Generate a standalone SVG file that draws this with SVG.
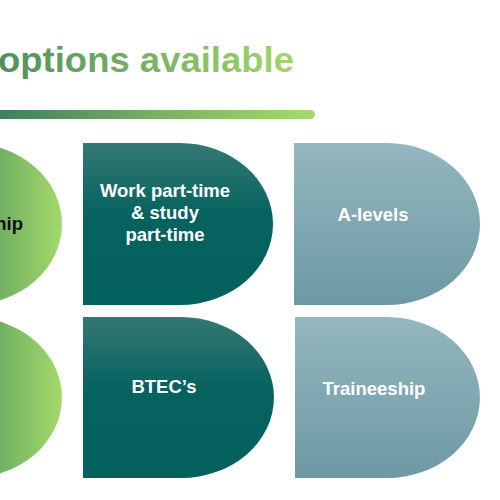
<svg xmlns="http://www.w3.org/2000/svg" width="500" height="500" viewBox="0 0 500 500">
<defs>
<linearGradient id="gTitle" x1="0" y1="0" x2="1" y2="0">
<stop offset="0" stop-color="#4f8f5c"/>
<stop offset="1" stop-color="#a2d66c"/>
</linearGradient>
<linearGradient id="gBar" x1="0" y1="0" x2="1" y2="0">
<stop offset="0" stop-color="#3d7a5c"/>
<stop offset="0.5" stop-color="#76b062"/>
<stop offset="1" stop-color="#a6da6c"/>
</linearGradient>
<linearGradient id="gTeal" x1="0" y1="0" x2="0" y2="1">
<stop offset="0" stop-color="#357873"/>
<stop offset="0.45" stop-color="#05625f"/>
<stop offset="1" stop-color="#02605d"/>
</linearGradient>
<linearGradient id="gGray" x1="0" y1="0" x2="0" y2="1">
<stop offset="0" stop-color="#94b6bf"/>
<stop offset="1" stop-color="#6d99a5"/>
</linearGradient>
<linearGradient id="gGreen" x1="0" y1="0" x2="1" y2="0">
<stop offset="0" stop-color="#4f9660"/>
<stop offset="0.65" stop-color="#6eae62"/>
<stop offset="1" stop-color="#a3d86a"/>
</linearGradient>
</defs>
<style>
.lbl{font-family:"Liberation Sans",Arial,sans-serif;font-weight:bold;font-size:18.5px;fill:#ffffff;text-anchor:middle}
.dark{fill:#111111;text-anchor:end}
</style>
<rect width="500" height="500" fill="#ffffff"/>
<text x="-2" y="72" font-family="'Liberation Sans',Arial,sans-serif" font-weight="bold" font-size="35" fill="url(#gTitle)" textLength="296" lengthAdjust="spacingAndGlyphs">options available</text>
<rect x="-10" y="110" width="325" height="9" rx="4.5" fill="url(#gBar)"/>
<g id="node-apprenticeship">
<path d="M-130,143 H-31 A93,81 0 0 1 -31,305 H-130 Z" fill="url(#gGreen)"/>
<text class="lbl dark" x="23" y="230">Apprenticeship</text>
</g>
<g id="node-work-study">
<path d="M83,143 H180 A93,81 0 0 1 180,305 H83 Z" fill="url(#gTeal)"/>
<text class="lbl" x="165" y="197">Work part-time</text>
<text class="lbl" x="165" y="219">&amp; study</text>
<text class="lbl" x="165" y="241">part-time</text>
</g>
<g id="node-alevels">
<path d="M294,143 H387 A93,81 0 0 1 387,305 H294 Z" fill="url(#gGray)"/>
<text class="lbl" x="373" y="221">A-levels</text>
</g>
<g id="node-green2">
<path d="M-130,317 H-31 A93,80.5 0 0 1 -31,478 H-130 Z" fill="url(#gGreen)"/>
</g>
<g id="node-btec">
<path d="M83,317 H181 A93,80.5 0 0 1 181,478 H83 Z" fill="url(#gTeal)"/>
<text class="lbl" x="164" y="393">BTEC’s</text>
</g>
<g id="node-traineeship">
<path d="M295,317 H387 A93,80.5 0 0 1 387,478 H295 Z" fill="url(#gGray)"/>
<text class="lbl" x="374" y="395">Traineeship</text>
</g>
<g id="connectors"></g>
</svg>
